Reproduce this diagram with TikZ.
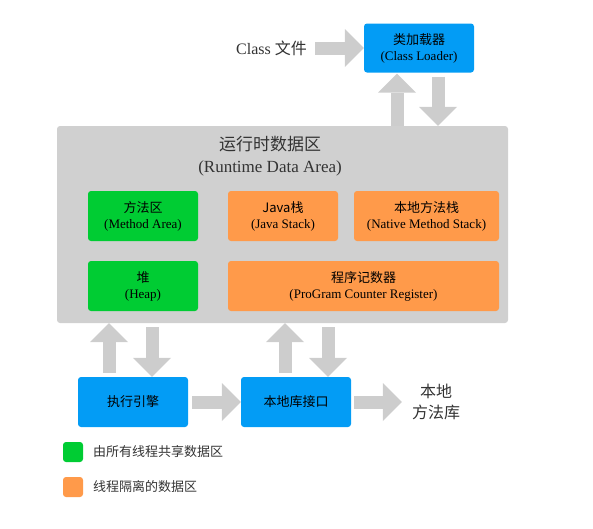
\documentclass[tikz,border=0pt]{standalone}
\usepackage{fontspec}
\setmainfont{Liberation Serif}
\newfontfamily\cjk{Noto Sans CJK SC}
\usetikzlibrary{arrows.meta,calc}
\definecolor{cblue}{HTML}{039CF5}
\definecolor{cgreen}{HTML}{00CC33}
\definecolor{corange}{HTML}{FF9A4A}
\definecolor{cgray}{HTML}{D0D0D0}
\definecolor{carrow}{HTML}{CDCDCD}
\definecolor{ctext}{HTML}{333333}
\newcommand{\zh}[1]{{\cjk\fontsize{13}{16}\selectfont #1}}
\newcommand{\en}[1]{{\fontsize{13}{16}\selectfont #1}}
\begin{document}
\begin{tikzpicture}[x=1pt,y=-1pt,
  box/.style={rounded corners=3pt, minimum width=110pt, minimum height=50pt,
    inner sep=0pt, align=center, text=black, font=\fontsize{13}{16}\selectfont},
  bluebox/.style={box, fill=cblue},
  greenbox/.style={box, fill=cgreen},
  orangebox/.style={box, fill=corange},
  legendsq/.style={rounded corners=3pt, minimum width=20pt, minimum height=20pt, inner sep=0pt},
  plaintext/.style={inner sep=0pt, text=ctext, align=center},
  bigarrow/.style={draw=carrow, line width=13pt,
    -{Triangle[width=38pt,length=19pt,line width=0pt,fill=carrow]}}
]
\useasboundingbox (0,0) rectangle (593,528);

% runtime data area
\node[fill=cgray, rounded corners=3pt, minimum width=451pt, minimum height=197pt, inner sep=0pt] (rda) at (282.5,224.5) {};
\node[plaintext, font=\fontsize{17}{22}\selectfont] (rdatitle) at (270,156) {{\cjk\fontsize{17}{22}\selectfont 运行时数据区}\\(Runtime Data Area)};

\node[greenbox] (method) at (143,216) {\zh{方法区}\\\en{(Method Area)}};
\node[orangebox] (jstack) at (283,216) {\zh{Java栈}\\\en{(Java Stack)}};
\node[orangebox, minimum width=145pt] (nstack) at (426.5,216) {\zh{本地方法栈}\\\en{(Native Method Stack)}};
\node[greenbox] (heap) at (143,286) {\zh{堆}\\\en{(Heap)}};
\node[orangebox, minimum width=271pt] (pcreg) at (363.5,286) {\zh{程序记数器}\\\en{(ProGram Counter Register)}};

% class loader
\node[bluebox, minimum height=49pt] (loader) at (419,48) {\zh{类加载器}\\\en{(Class Loader)}};
\node[plaintext, anchor=east, font=\fontsize{16}{20}\selectfont] (classfile) at (307,48) {Class {\cjk 文件}};

% bottom boxes
\node[bluebox] (exec) at (133,402) {\zh{执行引擎}};
\node[bluebox] (nint) at (296,402) {\zh{本地库接口}};
\node[plaintext, minimum width=48pt, font=\cjk\fontsize{16}{21}\selectfont] (nlib) at (436,402) {本地\\方法库};

% legend
\node[legendsq, fill=cgreen] (lg1) at (73,452) {};
\node[plaintext, anchor=west] (lg1t) at (93,452) {\zh{由所有线程共享数据区}};
\node[legendsq, fill=corange] (lg2) at (73,487) {};
\node[plaintext, anchor=west] (lg2t) at (93,487) {\zh{线程隔离的数据区}};

% arrows
\draw[bigarrow] ($(classfile.east)+(8,0)$) -- (loader.west);
\coordinate (la) at ($(loader.south)+(-22,1)$);
\coordinate (lb) at ($(loader.south)+(19,4)$);
\draw[bigarrow] (la |- rda.north) -- (la);
\draw[bigarrow] (lb) -- (lb |- rda.north);

\coordinate (ea) at ($(exec.north)+(-24,-4)$);
\coordinate (eb) at ($(exec.north)+(19,0)$);
\draw[bigarrow] (ea) -- (ea |- rda.south);
\draw[bigarrow] ($(eb |- rda.south)+(0,4)$) -- (eb);

\coordinate (na) at ($(nint.north)+(-11,-4)$);
\coordinate (nb) at ($(nint.north)+(32,0)$);
\draw[bigarrow] (na) -- (na |- rda.south);
\draw[bigarrow] ($(nb |- rda.south)+(0,4)$) -- (nb);

\draw[bigarrow] ($(exec.east)+(4,0)$) -- (nint.west);
\draw[bigarrow] ($(nint.east)+(3,0)$) -- ($(nlib.west)+(-10,0)$);
\end{tikzpicture}
\end{document}
